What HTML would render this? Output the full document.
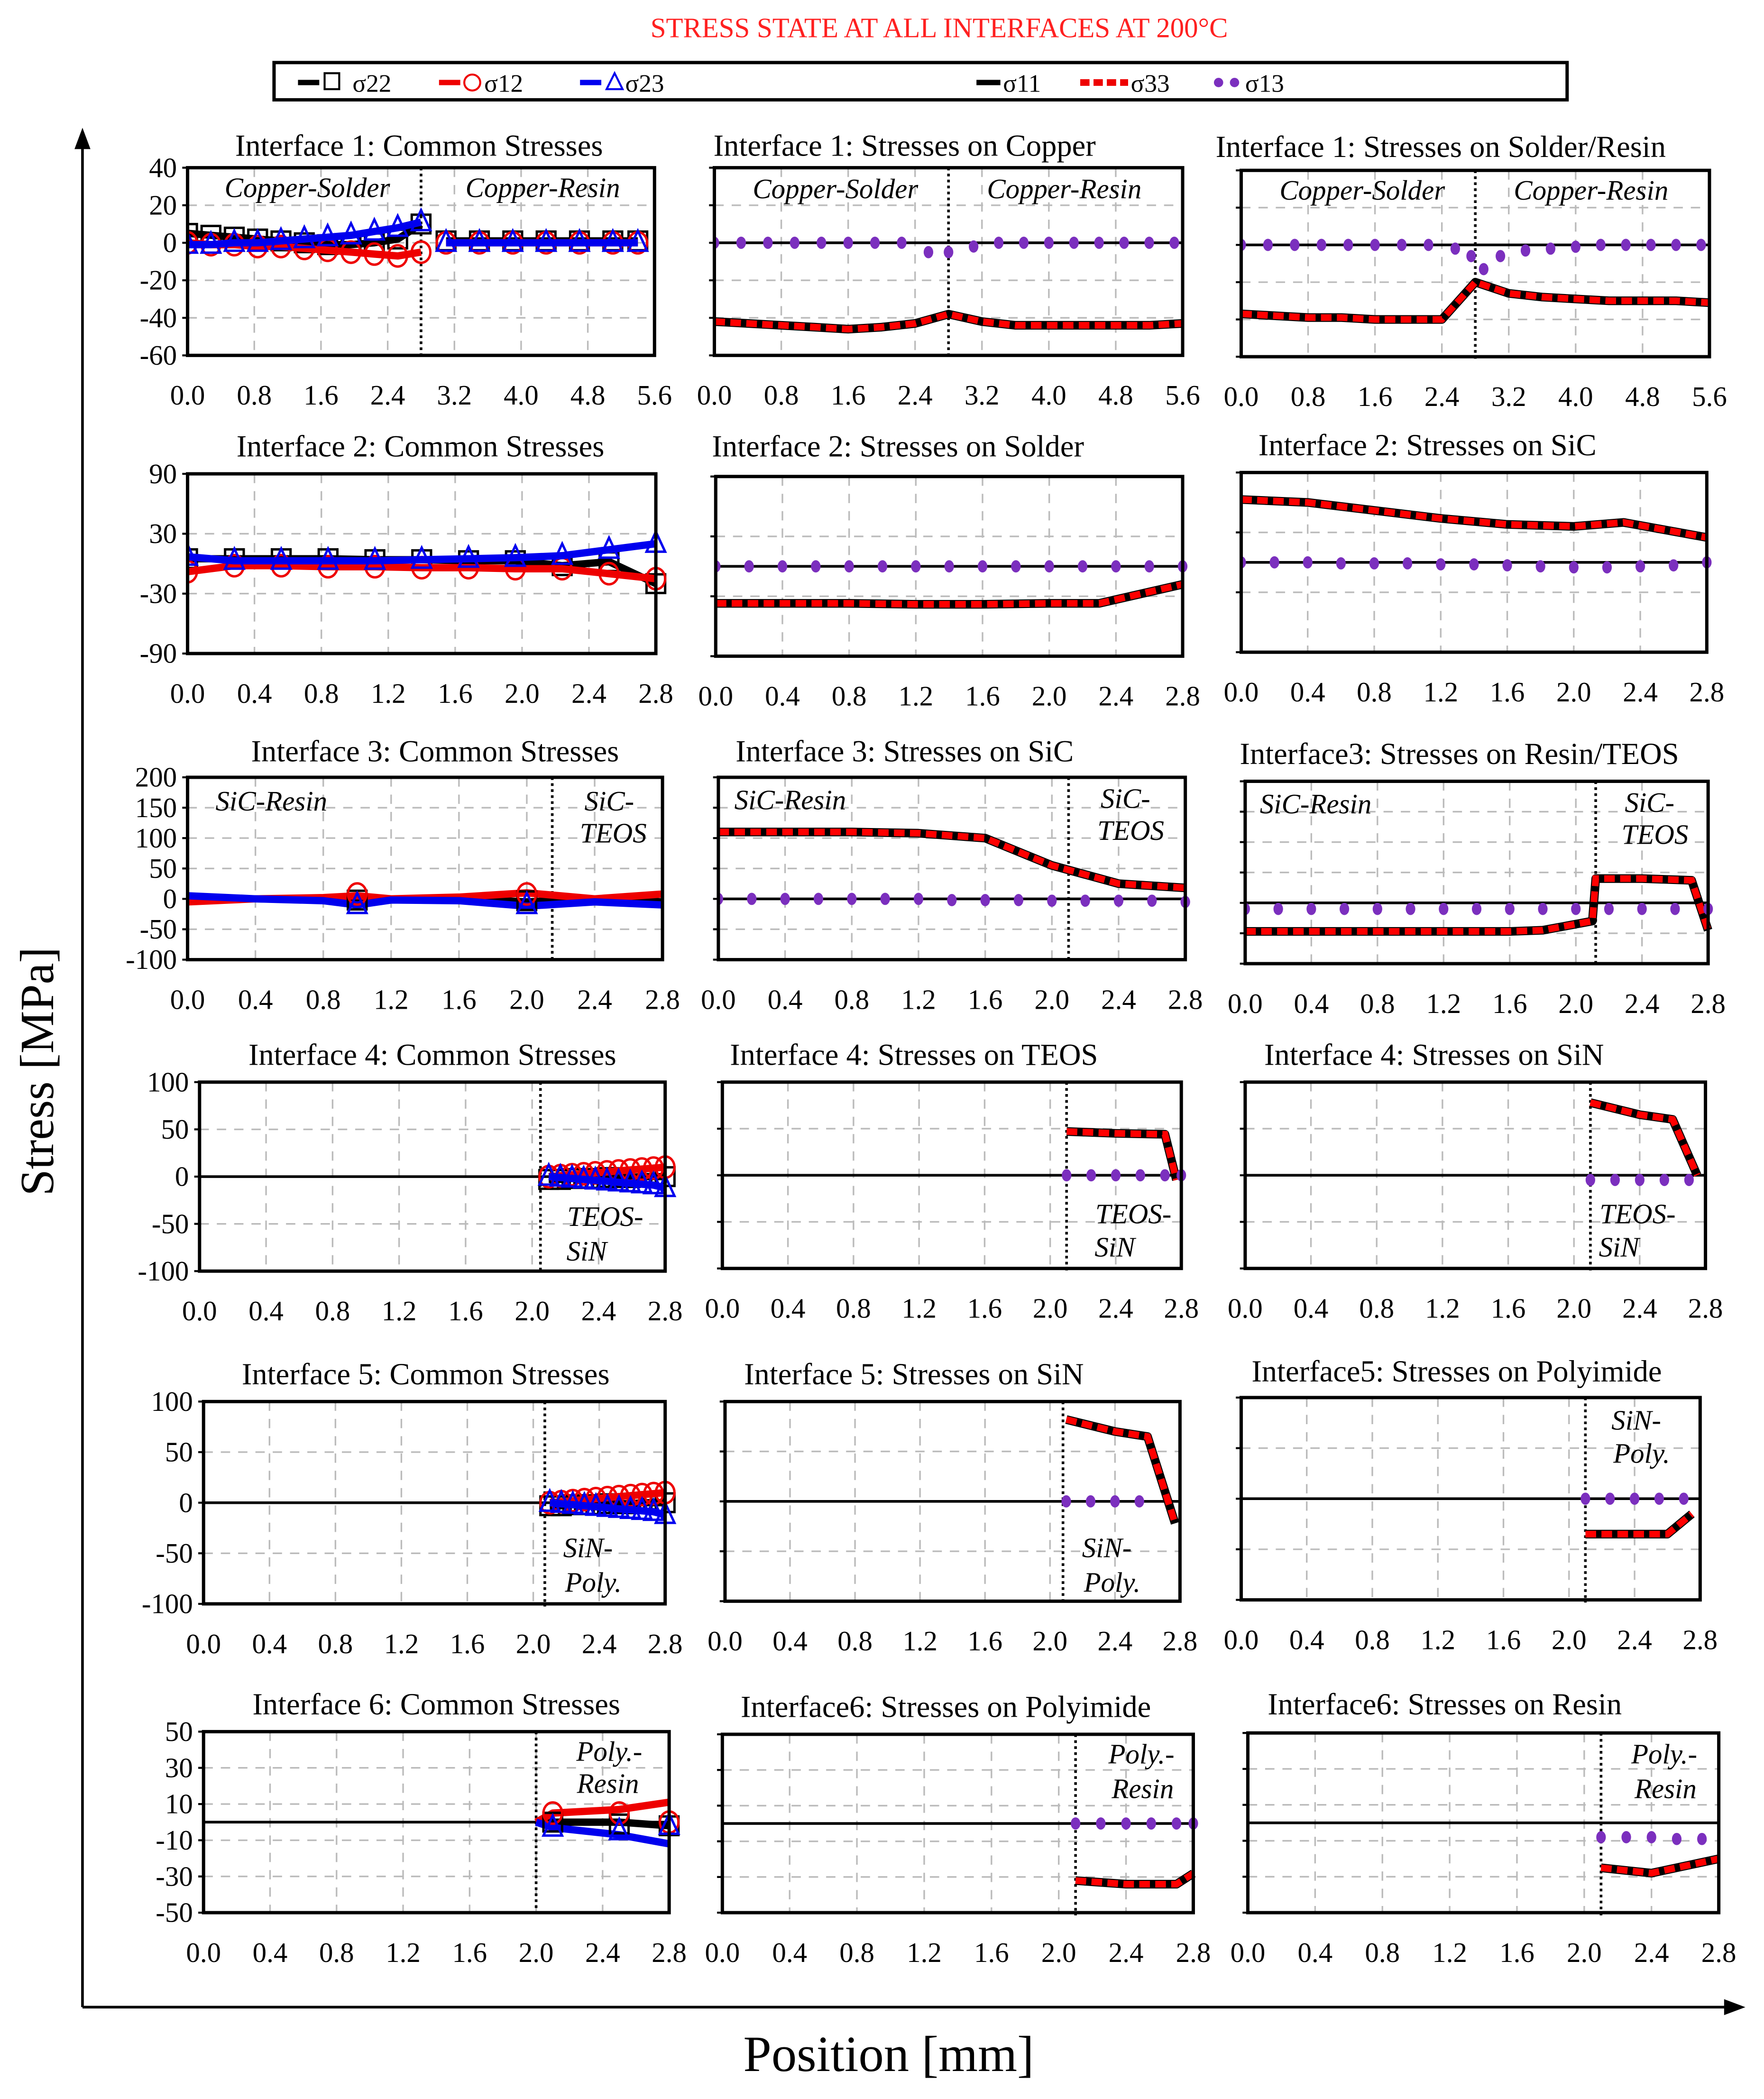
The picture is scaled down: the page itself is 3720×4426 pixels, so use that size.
<!DOCTYPE html>
<html><head><meta charset="utf-8">
<style>
html,body{margin:0;padding:0;background:#fff;}
svg{display:block;}
text{font-family:"Liberation Serif","DejaVu Serif",serif;}
</style></head>
<body>
<svg id="fig" xmlns="http://www.w3.org/2000/svg" width="3720" height="4426" viewBox="0 0 1326 1577" preserveAspectRatio="none">
<rect width="1326" height="1577" fill="#fff"/>
<text x="706" y="28" text-anchor="middle" font-size="21" fill="#ff2020" font-family="Liberation Serif">STRESS STATE AT ALL INTERFACES AT 200°C</text>
<g>
<rect x="206" y="47" width="972" height="28" fill="#fff" stroke="#000" stroke-width="2.5"/>
<g><line x1="224" y1="62" x2="240" y2="62" stroke="#000" stroke-width="4"/><rect x="244" y="55" width="11" height="12" fill="none" stroke="#000" stroke-width="1.5"/><text x="265" y="69" font-size="19">σ22</text></g>
<g><line x1="330" y1="62" x2="346" y2="62" stroke="#e00" stroke-width="4"/><circle cx="355" cy="62" r="6" fill="none" stroke="#e00" stroke-width="1.5"/><text x="364" y="69" font-size="19">σ12</text></g>
<g><line x1="436" y1="62" x2="452" y2="62" stroke="#00e" stroke-width="4"/><polygon points="462,55 456,67 468,67" fill="none" stroke="#00e" stroke-width="1.5"/><text x="470" y="69" font-size="19">σ23</text></g>
<g><line x1="734" y1="62" x2="752" y2="62" stroke="#000" stroke-width="4"/><text x="754" y="69" font-size="19">σ11</text></g>
<g><line x1="812" y1="62" x2="848" y2="62" stroke="#e00" stroke-width="5" stroke-dasharray="7,3"/><text x="850" y="69" font-size="19">σ33</text></g>
<g><circle cx="916" cy="62" r="3.5" fill="#7b2fbe"/><circle cx="928" cy="62" r="3.5" fill="#7b2fbe"/><text x="936" y="69" font-size="19">σ13</text></g>
</g>
<g>
<line x1="62" y1="104" x2="62" y2="1508" stroke="#000" stroke-width="2"/>
<polygon points="62,96 56,112 68,112" fill="#000"/>
<line x1="62" y1="1508" x2="1302" y2="1508" stroke="#000" stroke-width="2"/>
<polygon points="1312,1508 1296,1502 1296,1514" fill="#000"/>
</g>
<text transform="translate(40,805) rotate(-90)" text-anchor="middle" font-size="36">Stress [MPa]</text>
<text x="668" y="1556" text-anchor="middle" font-size="38">Position [mm]</text>
<g id="panels"></g>
</svg>
<script>
// ---------- tick labels ----------
const xTicksWide = [0.0,0.8,1.6,2.4,3.2,4.0,4.8,5.6];
const xTicksNarrow = [0.0,0.4,0.8,1.2,1.6,2.0,2.4,2.8];
const yTicksR1 = [40,20,0,-20,-40,-60];
const yTicksR2 = [90,30,-30,-90];
const yTicksR3 = [200,150,100,50,0,-50,-100];
const yTicksR4 = [100,50,0,-50,-100];
const yTicksR6 = [50,30,10,-10,-30,-50];

// ---------- data: interface 1 ----------
const i1cX1 = [0,0.28,0.56,0.84,1.12,1.4,1.68,1.96,2.24,2.52,2.8];
const i1cX2 = [3.1,3.5,3.9,4.3,4.7,5.1,5.4];
const i1c_s22a = [5,4,3,2,1,0,-1,-1,0,2,10];
const i1c_s22b = [1,1,1,1,1,1,1];
const i1c_s12a = [0,-1,-1,-2,-2,-3,-4,-5,-6,-7,-5];
const i1c_s12b = [0,0,0,0,0,0,0];
const i1c_s23a = [-1,-1,0,0,1,2,3,4,6,8,11];
const i1c_s23b = [0,0,0,0,0,0,0];
const i1cuX = [0,0.4,0.8,1.2,1.6,2.0,2.4,2.8,3.2,3.6,4.0,4.4,4.8,5.2,5.6];
const i1cu_s33 = [-42,-43,-44,-45,-46,-45,-43,-38,-42,-44,-44,-44,-44,-44,-43];
const i1cuDX = [0,0.32,0.64,0.96,1.28,1.6,1.92,2.24,2.56,2.8,3.1,3.4,3.7,4.0,4.3,4.6,4.9,5.2,5.5];
const i1cu_s13 = [0,0,0,0,0,0,0,0,-5,-5,-2,0,0,0,0,0,0,0,0];
const i1srX = [0,0.4,0.8,1.2,1.6,2.0,2.4,2.8,3.2,3.6,4.0,4.4,4.8,5.2,5.6];
const i1sr_s33 = [-37,-38,-39,-39,-40,-40,-40,-20,-26,-28,-29,-30,-30,-30,-31];
const i1srDX = [0,0.32,0.64,0.96,1.28,1.6,1.92,2.24,2.56,2.75,2.9,3.1,3.4,3.7,4.0,4.3,4.6,4.9,5.2,5.5];
const i1sr_s13 = [0,0,0,0,0,0,0,0,-2,-6,-13,-6,-3,-2,-1,0,0,0,0,0];
// ---------- interface 2 ----------
const i2cX = [0,0.28,0.56,0.84,1.12,1.4,1.68,1.96,2.24,2.52,2.8];
const i2c_s22 = [5,5,5,5,4,4,3,3,-2,2,-20];
const i2c_s12 = [-8,-2,-2,-3,-3,-4,-4,-5,-5,-10,-15];
const i2c_s23 = [7,3,3,3,3,4,5,6,8,14,20];
const i2sX = [0,0.4,0.8,1.2,1.6,2.0,2.3,2.8];
const i2s_s33 = [-37,-37,-37,-38,-38,-37,-37,-18];
const i2sDX = [0,0.2,0.4,0.6,0.8,1.0,1.2,1.4,1.6,1.8,2.0,2.2,2.4,2.6,2.8];
const i2s_s13 = [0,0,0,0,0,0,0,0,0,0,0,0,0,0,0];
const i2cX2 = [0,0.4,0.8,1.2,1.6,2.0,2.3,2.8];
const i2sic_s33 = [63,60,52,44,38,36,40,25];
const i2sicDX = [0,0.2,0.4,0.6,0.8,1.0,1.2,1.4,1.6,1.8,2.0,2.2,2.4,2.6,2.8];
const i2sic_s13 = [0,0,0,-1,-1,-1,-2,-2,-3,-4,-5,-5,-4,-3,0];
// ---------- interface 3 ----------
const i3cX = [0,0.4,0.8,1.0,1.2,1.6,2.0,2.4,2.8];
const i3c_s22 = [0,0,-2,-5,-2,0,-5,0,-5];
const i3c_s12 = [-5,0,2,5,0,3,10,0,8];
const i3c_s23 = [5,0,-3,-10,-2,-3,-12,-5,-10];
const i3cMX = [1.0,2.0];
const i3cM_s22 = [-2,-3];
const i3cM_s12 = [8,8];
const i3cM_s23 = [-10,-10];
const i3sX = [0,0.4,0.8,1.2,1.6,2.0,2.4,2.8];
const i3s_s33 = [110,110,110,108,100,55,25,18];
const i3sDX = [0,0.2,0.4,0.6,0.8,1.0,1.2,1.4,1.6,1.8,2.0,2.2,2.4,2.6,2.8];
const i3s_s13 = [0,0,0,0,0,0,0,-2,-2,-2,-3,-3,-3,-3,-5];
const i3rX = [0,0.4,0.8,1.2,1.6,1.8,2.1,2.12,2.4,2.7,2.8];
const i3r_s33 = [-47,-47,-47,-47,-47,-45,-30,40,40,37,-45];
const i3rDX = [0,0.2,0.4,0.6,0.8,1.0,1.2,1.4,1.6,1.8,2.0,2.2,2.4,2.6,2.8];
const i3r_s13 = [-10,-10,-10,-10,-10,-10,-10,-10,-10,-10,-10,-10,-10,-10,-10];
// ---------- interface 4 ----------
const i4cX = [2.1,2.17,2.24,2.31,2.38,2.45,2.52,2.59,2.66,2.73,2.8];
const i4c_s22 = [-3,-3,-2,-2,-2,-1,-1,-1,0,0,0];
const i4c_s12 = [0,1,2,3,4,5,6,7,8,9,10];
const i4c_s23 = [0,-1,-2,-3,-4,-5,-6,-7,-8,-9,-12];
const i4tX = [2.1,2.4,2.7,2.77];
const i4t_s33 = [47,45,44,-5];
const i4tDX = [2.1,2.25,2.4,2.55,2.7,2.8];
const i4t_s13 = [0,0,0,0,0,0];
const i4nX = [2.1,2.4,2.6,2.75];
const i4n_s33 = [78,65,60,0];
const i4nDX = [2.1,2.25,2.4,2.55,2.7];
const i4n_s13 = [-5,-5,-5,-5,-5];
// ---------- interface 5 ----------
const i5cX = [2.1,2.17,2.24,2.31,2.38,2.45,2.52,2.59,2.66,2.73,2.8];
const i5c_s22 = [-3,-3,-2,-2,-2,-1,-1,-1,0,0,0];
const i5c_s12 = [0,1,2,3,4,5,6,7,8,9,10];
const i5c_s23 = [0,-1,-2,-3,-4,-5,-6,-7,-8,-9,-12];
const i5sX = [2.1,2.4,2.6,2.77];
const i5s_s33 = [82,70,65,-22];
const i5sDX = [2.1,2.25,2.4,2.55];
const i5s_s13 = [0,0,0,0];
const i5pX = [2.1,2.4,2.6,2.75];
const i5p_s33 = [-35,-35,-35,-15];
const i5pDX = [2.1,2.25,2.4,2.55,2.7];
const i5p_s13 = [0,0,0,0,0];
// ---------- interface 6 ----------
const i6cX = [2.0,2.1,2.5,2.8];
const i6c_s22 = [0,0,0,-2];
const i6c_s12 = [0,5,7,11];
const i6c_s23 = [0,-3,-7,-12];
const i6cMX = [2.1,2.5,2.8];
const i6cM_s22 = [0,-1,-2];
const i6cM_s12 = [5,5,0];
const i6cM_s23 = [-3,-5,-2];
const i6pX = [2.1,2.4,2.7,2.8];
const i6p_s33 = [-32,-34,-34,-28];
const i6pDX = [2.1,2.25,2.4,2.55,2.7,2.8];
const i6p_s13 = [0,0,0,0,0,0];
const i6rX = [2.1,2.4,2.8];
const i6r_s33 = [-25,-28,-20];
const i6rDX = [2.1,2.25,2.4,2.55,2.7];
const i6r_s13 = [-8,-8,-8,-9,-9];

// ---------- panel definitions ----------
const NS = 'http://www.w3.org/2000/svg';
const root = document.getElementById('panels');
function mk(tag, attrs, parent){
  const e = document.createElementNS(NS, tag);
  for (const k in attrs) e.setAttribute(k, attrs[k]);
  (parent||root).appendChild(e);
  return e;
}
const panels = [
 {id:'i1-common',title:'Interface 1: Common Stresses',tx:315,ty:117,box:[141,126,492,267],xr:[0,5.6],xt:xTicksWide,yr:[-60,40],yt:yTicksR1,ylab:true,div:2.8,zero:false,
  ann:[['Copper-Solder',231,148],['Copper-Resin',408,148]],
  common:[{x:i1cX1,y:i1c_s22a,c:'#000',m:'sq'},{x:i1cX2,y:i1c_s22b,c:'#000',m:'sq'},{x:i1cX1,y:i1c_s12a,c:'#e00',m:'ci'},{x:i1cX2,y:i1c_s12b,c:'#e00',m:'ci'},{x:i1cX1,y:i1c_s23a,c:'#00e',m:'tr'},{x:i1cX2,y:i1c_s23b,c:'#00e',m:'tr'}]},
 {id:'i1-copper',title:'Interface 1: Stresses on Copper',tx:680,ty:117,box:[537,126,889,267],xr:[0,5.6],xt:xTicksWide,yr:[-60,40],yt:yTicksR1,div:2.8,zero:true,
  ann:[['Copper-Solder',628,149],['Copper-Resin',800,149]],line:{x:i1cuX,y:i1cu_s33},dots:{x:i1cuDX,y:i1cu_s13}},
 {id:'i1-solder-resin',title:'Interface 1: Stresses on Solder/Resin',tx:1083,ty:118,box:[933,128,1285,268],xr:[0,5.6],xt:xTicksWide,yr:[-60,40],yt:yTicksR1,div:2.8,zero:true,
  ann:[['Copper-Solder',1024,150],['Copper-Resin',1196,150]],line:{x:i1srX,y:i1sr_s33},dots:{x:i1srDX,y:i1sr_s13}},
 {id:'i2-common',title:'Interface 2: Common Stresses',tx:316,ty:343,box:[141,356,493,491],xr:[0,2.8],xt:xTicksNarrow,yr:[-90,90],yt:yTicksR2,ylab:true,zero:false,ann:[],
  common:[{x:i2cX,y:i2c_s22,c:'#000',m:'sq'},{x:i2cX,y:i2c_s12,c:'#e00',m:'ci'},{x:i2cX,y:i2c_s23,c:'#00e',m:'tr'}]},
 {id:'i2-solder',title:'Interface 2: Stresses on Solder',tx:675,ty:343,box:[538,358,889,493],xr:[0,2.8],xt:xTicksNarrow,yr:[-90,90],yt:yTicksR2,zero:true,ann:[],line:{x:i2sX,y:i2s_s33},dots:{x:i2sDX,y:i2s_s13}},
 {id:'i2-sic',title:'Interface 2: Stresses on SiC',tx:1073,ty:342,box:[933,355,1283,490],xr:[0,2.8],xt:xTicksNarrow,yr:[-90,90],yt:yTicksR2,zero:true,ann:[],line:{x:i2cX2,y:i2sic_s33},dots:{x:i2sicDX,y:i2sic_s13}},
 {id:'i3-common',title:'Interface 3: Common Stresses',tx:327,ty:572,box:[141,584,498,721],xr:[0,2.8],xt:xTicksNarrow,yr:[-100,200],yt:yTicksR3,ylab:true,div:2.15,zero:false,
  ann:[['SiC-Resin',204,609],['SiC-',458,609],['TEOS',461,633]],
  common:[{x:i3cX,y:i3c_s22,c:'#000',m:null},{x:i3cX,y:i3c_s12,c:'#e00',m:null},{x:i3cX,y:i3c_s23,c:'#00e',m:null},{x:i3cMX,y:i3cM_s22,c:'#000',m:'sq',nol:1},{x:i3cMX,y:i3cM_s12,c:'#e00',m:'ci',nol:1},{x:i3cMX,y:i3cM_s23,c:'#00e',m:'tr',nol:1}]},
 {id:'i3-sic',title:'Interface 3: Stresses on SiC',tx:680,ty:572,box:[540,584,891,721],xr:[0,2.8],xt:xTicksNarrow,yr:[-100,200],yt:yTicksR3,div:2.1,zero:false,
  ann:[['SiC-Resin',594,608],['SiC-',846,607],['TEOS',850,631]],line:{x:i3sX,y:i3s_s33},dots:{x:i3sDX,y:i3s_s13}},
 {id:'i3-resin-teos',title:'Interface3: Stresses on Resin/TEOS',tx:1097,ty:574,box:[936,587,1284,724],xr:[0,2.8],xt:xTicksNarrow,yr:[-100,200],yt:yTicksR3,div:2.12,zero:false,
  ann:[['SiC-Resin',989,611],['SiC-',1240,610],['TEOS',1244,634]],line:{x:i3rX,y:i3r_s33},dots:{x:i3rDX,y:i3r_s13}},
 {id:'i4-common',title:'Interface 4: Common Stresses',tx:325,ty:800,box:[150,813,500,955],xr:[0,2.8],xt:xTicksNarrow,yr:[-100,100],yt:yTicksR4,ylab:true,div:2.05,zero:true,
  ann:[['TEOS-',455,921],['SiN',441,947]],
  common:[{x:i4cX,y:i4c_s22,c:'#000',m:'sq'},{x:i4cX,y:i4c_s12,c:'#e00',m:'ci'},{x:i4cX,y:i4c_s23,c:'#00e',m:'tr'}]},
 {id:'i4-teos',title:'Interface 4: Stresses on TEOS',tx:687,ty:800,box:[543,813,888,953],xr:[0,2.8],xt:xTicksNarrow,yr:[-100,100],yt:yTicksR4,div:2.1,zero:true,
  ann:[['TEOS-',852,919],['SiN',838,944]],line:{x:i4tX,y:i4t_s33},dots:{x:i4tDX,y:i4t_s13}},
 {id:'i4-sin',title:'Interface 4: Stresses on SiN',tx:1078,ty:800,box:[936,813,1282,953],xr:[0,2.8],xt:xTicksNarrow,yr:[-100,100],yt:yTicksR4,div:2.1,zero:true,
  ann:[['TEOS-',1231,919],['SiN',1217,944]],line:{x:i4nX,y:i4n_s33},dots:{x:i4nDX,y:i4n_s13}},
 {id:'i5-common',title:'Interface 5: Common Stresses',tx:320,ty:1040,box:[153,1053,500,1205],xr:[0,2.8],xt:xTicksNarrow,yr:[-100,100],yt:yTicksR4,ylab:true,div:2.07,zero:true,
  ann:[['SiN-',442,1170],['Poly.',446,1196]],
  common:[{x:i5cX,y:i5c_s22,c:'#000',m:'sq'},{x:i5cX,y:i5c_s12,c:'#e00',m:'ci'},{x:i5cX,y:i5c_s23,c:'#00e',m:'tr'}]},
 {id:'i5-sin',title:'Interface 5: Stresses on SiN',tx:687,ty:1040,box:[545,1053,887,1203],xr:[0,2.8],xt:xTicksNarrow,yr:[-100,100],yt:yTicksR4,div:2.08,zero:true,
  ann:[['SiN-',832,1170],['Poly.',836,1196]],line:{x:i5sX,y:i5s_s33},dots:{x:i5sDX,y:i5s_s13}},
 {id:'i5-polyimide',title:'Interface5: Stresses on Polyimide',tx:1095,ty:1038,box:[933,1050,1278,1202],xr:[0,2.8],xt:xTicksNarrow,yr:[-100,100],yt:yTicksR4,div:2.1,zero:true,
  ann:[['SiN-',1230,1074],['Poly.',1234,1099]],line:{x:i5pX,y:i5p_s33},dots:{x:i5pDX,y:i5p_s13}},
 {id:'i6-common',title:'Interface 6: Common Stresses',tx:328,ty:1288,box:[153,1301,503,1437],xr:[0,2.8],xt:xTicksNarrow,yr:[-50,50],yt:yTicksR6,ylab:true,div:2.0,zero:true,
  ann:[['Poly.-',458,1323],['Resin',457,1347]],
  common:[{x:i6cX,y:i6c_s22,c:'#000',m:null},{x:i6cX,y:i6c_s12,c:'#e00',m:null},{x:i6cX,y:i6c_s23,c:'#00e',m:null},{x:i6cMX,y:i6cM_s22,c:'#000',m:'sq',nol:1},{x:i6cMX,y:i6cM_s12,c:'#e00',m:'ci',nol:1},{x:i6cMX,y:i6cM_s23,c:'#00e',m:'tr',nol:1}]},
 {id:'i6-polyimide',title:'Interface6:  Stresses on Polyimide',tx:711,ty:1290,box:[543,1303,897,1437],xr:[0,2.8],xt:xTicksNarrow,yr:[-50,50],yt:yTicksR6,div:2.1,zero:true,
  ann:[['Poly.-',858,1325],['Resin',859,1351]],line:{x:i6pX,y:i6p_s33},dots:{x:i6pDX,y:i6p_s13}},
 {id:'i6-resin',title:'Interface6: Stresses on Resin',tx:1086,ty:1288,box:[938,1302,1292,1437],xr:[0,2.8],xt:xTicksNarrow,yr:[-50,50],yt:yTicksR6,div:2.1,zero:true,
  ann:[['Poly.-',1251,1325],['Resin',1252,1351]],line:{x:i6rX,y:i6r_s33},dots:{x:i6rDX,y:i6r_s13}}
];

function pts(xs, ys, sx, sy){ return xs.map((v,i)=>sx(v).toFixed(1)+','+sy(ys[i]).toFixed(1)).join(' '); }

panels.forEach(p=>{
  const [x0,y0,x1,y1] = p.box;
  const sx = v => x0 + (v - p.xr[0])/(p.xr[1]-p.xr[0])*(x1-x0);
  const sy = v => y1 - (v - p.yr[0])/(p.yr[1]-p.yr[0])*(y1-y0);
  const g = mk('g', {});
  
  
  const t = mk('text', {x:p.tx, y:p.ty, 'text-anchor':'middle', 'font-size':23}, g);
  
  
  t.textContent = p.title;
  const cid = 'clip-' + p.id;
  const cp = mk('clipPath', {id:cid}, g);
  mk('rect', {x:x0, y:y0-8, width:x1-x0+10, height:y1-y0+16}, cp);
  p.xt.forEach(v=>{ const gl = mk('line',{x1:sx(v),x2:sx(v),y1:y0,y2:y1,stroke:'#bbb','stroke-width':1.2,'stroke-dasharray':'7,6'},g);
      });
  p.yt.forEach(v=>{ const gl = mk('line',{x1:x0,x2:x1,y1:sy(v),y2:sy(v),stroke:'#bbb','stroke-width':1.2,'stroke-dasharray':'7,6'},g);
     
    mk('line',{x1:x0-4,x2:x0,y1:sy(v),y2:sy(v),stroke:'#000','stroke-width':1.5},g); });
  p.xt.forEach(v=>{ const tl = mk('text',{x:sx(v), y:y1+37, 'text-anchor':'middle','font-size':21},g);
     
    tl.textContent = v.toFixed(1); });
  if (p.ylab) p.yt.forEach(v=>{ const tl = mk('text',{x:x0-8, y:sy(v)+7, 'text-anchor':'end','font-size':21},g);
     
    tl.textContent = String(v); });
  if (p.zero || p.line) { const zl = mk('line',{x1:x0,x2:x1,y1:sy(0),y2:sy(0),stroke:'#000','stroke-width':2},g);
      }
  if (p.div !== undefined) { const dl = mk('line',{x1:sx(p.div),x2:sx(p.div),y1:y0,y2:y1+2,stroke:'#000','stroke-width':2,'stroke-dasharray':'2,2.5'},g);
      }
  const dg = mk('g',{'clip-path':'url(#'+cid+')'},g);
  if (p.common) p.common.forEach(s=>{
    if (!s.nol) { const pl = mk('polyline',{points:pts(s.x,s.y,sx,sy),fill:'none',stroke:s.c,'stroke-width':5.5,'stroke-linejoin':'round'},dg);
        }
    if (s.m) s.x.forEach((v,i)=>{
      const cx = sx(v), cy = sy(s.y[i]); let mEl;
      if (s.m==='sq') mEl = mk('rect',{x:cx-7,y:cy-7,width:14,height:14,fill:'none',stroke:s.c,'stroke-width':1.8},dg);
      else if (s.m==='ci') mEl = mk('ellipse',{cx:cx,cy:cy,rx:7,ry:8,fill:'none',stroke:s.c,'stroke-width':1.8},dg);
      else mEl = mk('polygon',{points:(cx)+','+(cy-9)+' '+(cx-7)+','+(cy+6)+' '+(cx+7)+','+(cy+6),fill:'none',stroke:s.c,'stroke-width':1.8},dg);
       
    });
  });
  if (p.line) {
    const a = mk('polyline',{points:pts(p.line.x,p.line.y,sx,sy),fill:'none',stroke:'#000','stroke-width':6.5,'stroke-linejoin':'round'},dg);
     
    const b = mk('polyline',{points:pts(p.line.x,p.line.y,sx,sy),fill:'none',stroke:'#f00','stroke-width':5,'stroke-dasharray':'8,4'},dg);
     
  }
  if (p.dots) p.dots.x.forEach((v,i)=>{
    const d = mk('ellipse',{cx:sx(v),cy:sy(p.dots.y[i]),rx:3.6,ry:4.6,fill:'#7b2fbe'},dg);
     
  });
  p.ann.forEach(a=>{ const at = mk('text',{x:a[1],y:a[2],'text-anchor':'middle','font-size':21,'font-style':'italic'},g);
     
    at.textContent = a[0]; });
  const fr = mk('rect',{x:x0,y:y0,width:x1-x0,height:y1-y0,fill:'none',stroke:'#000','stroke-width':2.5},g);
   
});
</script>
</body></html>
